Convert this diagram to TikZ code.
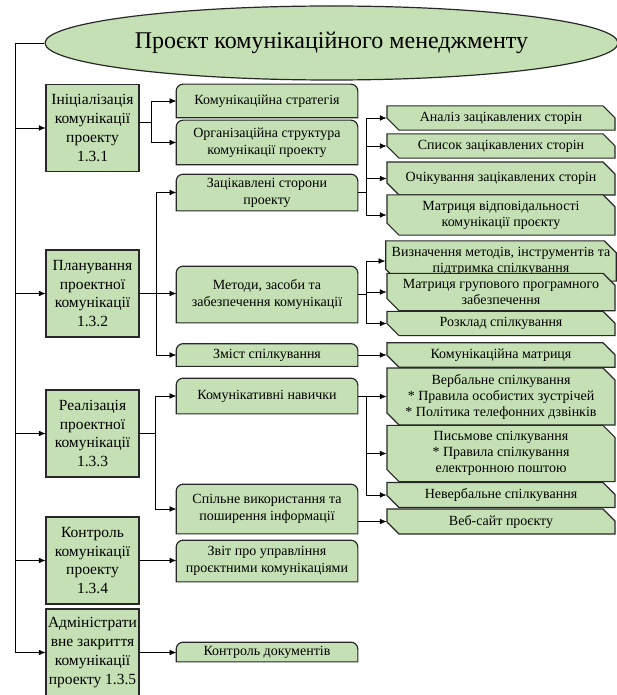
\documentclass[tikz,border=0pt]{standalone}
\usepackage{fontspec}
\setmainfont{Liberation Serif}
\usetikzlibrary{shapes,arrows.meta,backgrounds}

\definecolor{leaf}{RGB}{197,224,180}
\definecolor{rim}{RGB}{40,40,40}

\tikzstyle{proj} = [ellipse, draw=rim, fill=leaf, line width=1.2pt, minimum width=573pt, minimum height=74pt, inner sep=0pt, font=\fontsize{24}{28}\selectfont]
\tikzstyle{lbox} = [rectangle, draw=rim, fill=leaf, line width=1.2pt, minimum width=93pt, minimum height=87pt, inner sep=1pt, align=center, font=\fontsize{15.5}{18.7}\selectfont]
\tikzstyle{mbox} = [rectangle, minimum width=180pt, inner sep=1pt, align=center, font=\fontsize{14}{17}\selectfont]
\tikzstyle{rbox} = [chamfered rectangle, chamfered rectangle corners={north east,south west}, chamfered rectangle sep=6pt, draw=rim, fill=leaf, line width=1.2pt, minimum width=228pt, inner sep=0pt, align=center, font=\fontsize{14}{16}\selectfont]
\tikzstyle{mshape} = [draw=rim, fill=leaf, line width=1.2pt]

\begin{document}
\begin{tikzpicture}[x=1pt, y=-1pt, line width=1.7pt, >={Latex[length=6.5pt,width=5.5pt]}]
		\useasboundingbox (0,0) rectangle (616,695);
		\node[proj](proj) at (331.5,43){Проєкт комунікаційного менеджменту};
		
		\node[lbox](init) at (92.5,128){Ініціалізація\\комунікації\\проекту\\1.3.1};
		\node[lbox](plan) at (92.5,293.5){Планування\\проектної\\комунікації\\1.3.2};
		\node[lbox](impl) at (92.5,433.5){Реалізація\\проектної\\комунікації\\1.3.3};
		\node[lbox](ctrl) at (92.5,560.5){Контроль\\комунікації\\проекту\\1.3.4};
		\node[lbox](close) at (92.5,652.5){Адміністрати\\вне закриття\\комунікації\\проекту 1.3.5};
		
		\node[mbox, minimum height=32pt](strat) at (267,101){Комунікаційна стратегія};
		\node[mbox, minimum height=43pt](org) at (267,142.5){Організаційна структура\\комунікації проекту};
		\node[mbox, minimum height=35pt](stake) at (267,192.5){Зацікавлені сторони\\проекту};
		\node[mbox, minimum height=55pt](meth) at (267,294.5){Методи, засоби та\\забезпечення комунікації};
		\node[mbox, minimum height=21pt](cont) at (267,355){Зміст спілкування};
		\node[mbox, minimum height=34pt](skill) at (267,396){Комунікативні навички};
		\node[mbox, minimum height=48pt](share) at (267,509){Спільне використання та\\поширення інформації};
		\node[mbox, minimum height=40pt](rep) at (267,561){Звіт про управління\\проєктними комунікаціями};
		\node[mbox, minimum height=18pt](docs) at (267,652){Контроль документів};
		
		\node[rbox, minimum height=20pt](a1) at (501,118){Аналіз зацікавлених сторін};
		\node[rbox, minimum height=20pt](a2) at (501,146){Список зацікавлених сторін};
		\node[rbox, minimum height=33pt](a3) at (501,178.5){Очікування зацікавлених сторін};
		\node[rbox, minimum height=34pt](a4) at (501,215){Матриця відповідальності\\комунікації проєкту};
		\node[rbox, minimum height=26pt](b1) at (501,261){Визначення методів, інструментів та\\підтримка спілкування};
		\node[rbox, minimum height=32pt](b2) at (501,292){Матриця групового програмного\\забезпечення};
		\node[rbox, minimum height=21pt](b3) at (501,323.5){Розклад спілкування};
		\node[rbox, minimum height=21pt](b4) at (501,355){Комунікаційна матриця};
		\node[rbox, minimum height=47pt](c1) at (501,396.5){Вербальне спілкування\\* Правила особистих зустрічей\\* Політика телефонних дзвінків};
		\node[rbox, minimum height=53pt](c2) at (501,453.5){Письмове спілкування\\* Правила спілкування\\електронною поштою};
		\node[rbox, minimum height=20pt](c3) at (501,495){Невербальне спілкування};
		\node[rbox, minimum height=21pt](web) at (501,521.5){Веб-сайт проєкту};
		
		% rounded tops of the middle column
		\begin{pgfonlayer}{background}
		\foreach \n in {strat,org,stake,meth,cont,skill,share,rep,docs}
			\draw[mshape](\n.south west)--([yshift=-7pt]\n.north west) arc[start angle=180,end angle=90,radius=7pt]--([xshift=-7pt]\n.north east) arc[start angle=90,end angle=0,radius=7pt]--(\n.south east)--cycle;
		\end{pgfonlayer}
		
		\draw[->](proj.west)--++(-29,0)|-(close);
		\foreach \n in {init,plan,impl,ctrl}
			\draw[->]([xshift=-30pt]\n.west)--(\n);
		
		\draw[->]([yshift=6pt]init.east)--++(12,0)|-(strat);
		\draw[->]([yshift=6pt]init.east)--++(12,0)|-(org);
		\draw[->](plan.east)--(plan.east -| meth.west);
		\draw[->](plan.east)--++(17,0)|-(stake);
		\draw[->](plan.east)--++(17,0)|-(cont);
		\draw[->](impl.east)--++(16,0)|-(skill);
		\draw[->](impl.east)--++(16,0)|-(share);
		\draw[->](ctrl.east)--(ctrl.east -| rep.west);
		\draw[->](close.east)--(close.east -| docs.west);
		
		\foreach \n in {a1,a2,a3,a4}
			\draw[->](stake.east)--++(8,0)|-(\n);
		\foreach \n in {b1,b2,b3}
			\draw[->](meth.east)--++(8,0)|-(\n);
		\draw[->](cont.east)--(cont.east -| b4.west);
		\foreach \n in {c1,c2,c3}
			\draw[->](skill.east)--++(8,0)|-(\n);
		\draw[->](share.east |- web)--(web);
	\end{tikzpicture}
\end{document}
